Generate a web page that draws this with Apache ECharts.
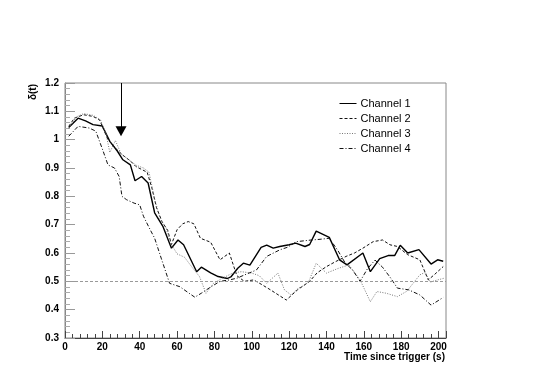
<!DOCTYPE html>
<html>
<head>
<meta charset="utf-8">
<script src="https://cdn.jsdelivr.net/npm/echarts@6/dist/echarts.min.js"></script>
<style>
  html, body { margin: 0; padding: 0; background: #fff; }
  #chart { width: 545px; height: 385px; }
</style>
</head>
<body>
<div id="chart"></div>
<script>
// values, [time (s), delta]
const ch1 = [[2,1.043],[7,1.076],[11,1.066],[15,1.053],[20,1.048],[24,0.994],[28,0.96],[31,0.929],[35,0.911],[37.5,0.855],[41,0.87],[44.5,0.847],[48,0.742],[52.5,0.693],[57,0.617],[60.5,0.646],[63.5,0.629],[70.5,0.534],[73,0.55],[78,0.53],[82,0.517],[87,0.51],[89,0.517],[92.5,0.546],[95.5,0.564],[99,0.557],[105,0.62],[108,0.628],[111.5,0.617],[115,0.623],[120,0.629],[123.5,0.635],[128.5,0.623],[131,0.63],[134.5,0.677],[141.5,0.655],[147,0.576],[151,0.558],[159.5,0.6],[163.5,0.534],[168.5,0.58],[173,0.591],[176.5,0.591],[179.5,0.627],[183.5,0.6],[189.5,0.612],[196,0.561],[199.5,0.576],[202.5,0.571]];
const ch2 = [[2,1.047],[5,1.076],[10,1.088],[15,1.082],[18.5,1.07],[23,1.0],[27,0.97],[31,0.945],[35,0.925],[38,0.905],[41,0.895],[44,0.885],[46.5,0.83],[49,0.76],[52,0.71],[55,0.68],[57,0.63],[60,0.682],[63,0.703],[66,0.711],[69,0.703],[72.5,0.652],[78,0.638],[83,0.576],[88,0.6],[92,0.52],[96,0.5],[101,0.505],[105,0.49],[110,0.47],[118.5,0.434],[124.5,0.47],[131,0.5],[135,0.53],[140,0.552],[145,0.57],[150.5,0.588],[155,0.6],[159.5,0.617],[165,0.64],[170,0.646],[174,0.629],[178,0.623],[183.5,0.594],[190,0.576],[194.5,0.505],[198,0.525],[202.5,0.552]];
const ch3 = [[2,1.04],[6,1.08],[10,1.092],[15,1.086],[19,1.07],[22,1.02],[24,0.955],[27,0.997],[30,0.95],[34,0.93],[38,0.91],[42,0.9],[45,0.885],[48,0.79],[51,0.72],[54,0.69],[57,0.63],[60,0.597],[64,0.585],[68,0.55],[72,0.517],[75.5,0.458],[79.5,0.493],[84,0.51],[90,0.53],[94.5,0.534],[100,0.529],[104,0.52],[108,0.493],[114,0.529],[117.5,0.47],[121,0.452],[125,0.476],[128.5,0.487],[130.5,0.499],[134.5,0.564],[140,0.529],[146,0.545],[152,0.558],[158,0.505],[163.5,0.428],[167,0.464],[172,0.458],[178,0.446],[183,0.465],[190,0.523],[193,0.532],[195.5,0.497],[199.5,0.505],[203,0.511]];
const ch4 = [[2,1.012],[7,1.047],[13,1.041],[16.5,1.03],[20.5,0.958],[23,0.911],[26.5,0.9],[29,0.87],[30.5,0.8],[33,0.788],[37,0.776],[40,0.77],[42,0.73],[45,0.69],[48,0.652],[51.5,0.582],[56,0.493],[61.5,0.481],[66,0.46],[69.5,0.444],[73,0.458],[78,0.48],[83,0.5],[88,0.505],[92,0.511],[97,0.525],[102.5,0.54],[108,0.588],[115,0.611],[119,0.62],[124,0.64],[132,0.646],[136,0.648],[141.5,0.652],[146,0.61],[150,0.565],[154,0.54],[158,0.5],[162,0.545],[166,0.575],[170,0.55],[174,0.515],[178,0.476],[184,0.47],[190,0.452],[196,0.416],[202.5,0.443]];

const channelNames = ["Channel 1", "Channel 2", "Channel 3", "Channel 4"];
const refLevel = 0.5;
const arrowT = 30;
const arrowFrom = 1.2;
const arrowTo = 1.03;

const font = "Liberation Sans, Helvetica, Arial, sans-serif";

const chart = echarts.init(document.getElementById("chart"), null, { renderer: "canvas" });

function line(name, data, color, width, type) {
  return {
    name: name,
    type: "line",
    data: data,
    symbol: "none",
    showSymbol: false,
    xAxisIndex: 0,
    yAxisIndex: 0,
    lineStyle: { color: color, width: width, type: type },
    itemStyle: { color: color },
    z: 3,
  };
}

const series = [
  line(channelNames[0], ch1, "#000", 1.4, "solid"),
  line(channelNames[1], ch2, "#111", 1, [3, 2]),
  line(channelNames[2], ch3, "#777", 1, [1, 1.5]),
  line(channelNames[3], ch4, "#111", 1, [4, 2, 1, 2]),
];

// 0.5 reference line and the trigger arrow
series[0].markLine = {
  silent: true,
  animation: false,
  symbol: ["none", "none"],
  label: { show: false },
  lineStyle: { color: "#000", width: 1, type: "solid" },
  data: [
    [
      { coord: [arrowT, arrowFrom], symbol: "none" },
      { coord: [arrowT, arrowTo], symbol: "triangle", symbolSize: [11, 10] },
    ],
    {
      yAxis: refLevel,
      lineStyle: { color: "#999", width: 1, type: [3, 2] },
    },
  ],
};

const option = {
  animation: false,
  backgroundColor: "#fff",
  grid: {
    left: 65,
    right: 99,
    top: 83,
    bottom: 47,
    show: true,
    borderColor: "#888",
    borderWidth: 1,
  },
  legend: {
    orient: "vertical",
    left: 339,
    top: 98,
    padding: 0,
    itemWidth: 17,
    itemHeight: 10,
    itemGap: 4,
    data: channelNames,
    itemStyle: { opacity: 0 },
    lineStyle: { width: 1 },
    textStyle: { fontFamily: font, fontSize: 11, color: "#000", padding: [0, 0, 0, -1] },
  },
  xAxis: [
    {
      type: "value",
      min: 0,
      max: 204,
      interval: 20,
      axisLine: { show: true, lineStyle: { color: "#444", width: 1 } },
      axisTick: { show: true, inside: true, length: 7, lineStyle: { color: "#444" } },
      splitLine: { show: false },
      axisLabel: {
        margin: 4,
        fontFamily: font,
        fontSize: 10,
        fontWeight: "bold",
        color: "#000",
        formatter: (v) => (v % 20 === 0 && v <= 200 ? String(v) : ""),
      },
    },
    {
      type: "value",
      min: 0,
      max: 204,
      interval: 4,
      position: "bottom",
      axisLine: { show: false },
      axisTick: { show: true, inside: true, length: 4, lineStyle: { color: "#444" } },
      axisLabel: { show: false },
      splitLine: { show: false },
    },
  ],
  yAxis: {
    type: "value",
    min: 0.3,
    max: 1.2,
    interval: 0.1,
    axisLine: { show: true, lineStyle: { color: "#888", width: 1 } },
    axisTick: { show: true, inside: true, length: 10, lineStyle: { color: "#999" } },
    minorTick: { show: true, splitNumber: 5, length: 5, lineStyle: { color: "#aaa" } },
    splitLine: { show: false },
    axisLabel: {
      margin: 6,
      fontFamily: font,
      fontSize: 10,
      fontWeight: "bold",
      color: "#000",
      formatter: (v) => String(+v.toFixed(1)),
    },
  },
  graphic: [
    {
      type: "text",
      x: 33,
      y: 92,
      rotation: Math.PI / 2,
      style: {
        text: "δ(t)",
        fontFamily: font,
        fontSize: 10,
        fontWeight: "bold",
        fill: "#000",
        align: "center",
        verticalAlign: "middle",
      },
    },
    {
      type: "text",
      x: 445,
      y: 357,
      style: {
        text: "Time since trigger (s)",
        fontFamily: font,
        fontSize: 10,
        fontWeight: "bold",
        fill: "#000",
        align: "right",
        verticalAlign: "middle",
      },
    },
  ],
  series: series,
};

chart.setOption(option);
</script>
</body>
</html>
